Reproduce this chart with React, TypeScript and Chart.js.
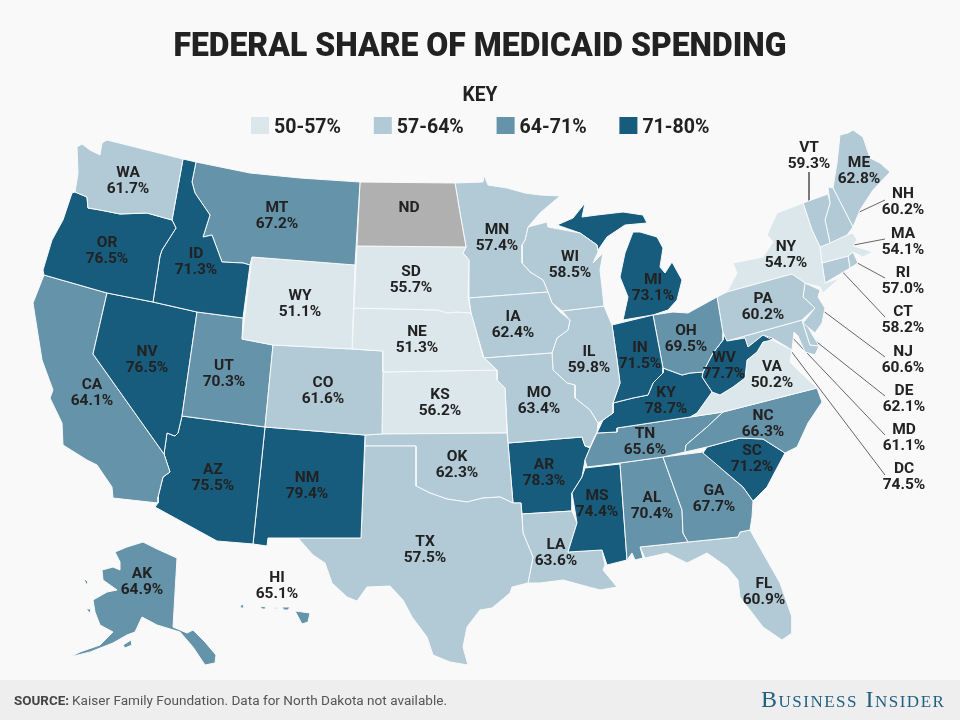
import React, { useEffect, useRef } from "react";
import { Chart, registerables } from "chart.js";

Chart.register(...registerables);

type Pt = [number, number];

const titleText = "FEDERAL SHARE OF MEDICAID SPENDING";
const keyText = "KEY";
const bandLabels = ["50-57%", "57-64%", "64-71%", "71-80%"];
const bandLimits = [57, 64, 71, 80];
const bandColors = ["#dce7ec", "#b2cad6", "#6593a9", "#175c7c"];
const noDataColor = "#b0b0b0";

const stateCodes = ["WA","OR","ID","MT","WY","ND","SD","NE","CO","UT","NV","CA","AZ","NM","TX","OK","KS","MO","IA","MN","WI","IL","IN","MI","OH","KY","WV","VA","NC","TN","SC","GA","AL","MS","LA","AR","FL","PA","NY","VT","NH","ME","MA","CT","RI","NJ","DE","MD","DC","AK","HI"];
const stateValues: (number | null)[] = [61.7,76.5,71.3,67.2,51.1,null,55.7,51.3,61.6,70.3,76.5,64.1,75.5,79.4,57.5,62.3,56.2,63.4,62.4,57.4,58.5,59.8,71.5,73.1,69.5,78.7,77.7,50.2,66.3,65.6,71.2,67.7,70.4,74.4,63.6,78.3,60.9,60.2,54.7,59.3,60.2,62.8,54.1,58.2,57.0,60.6,62.1,61.1,74.5,64.9,65.1];

// Map outlines, in map units (one or more rings per state).
const outlines: Record<string, Pt[][]> = {
  WA: [[[77,147],[82,144],[90,150],[100,155],[102,143],[107,140],[183,159],[172,220],[147,213],[120,214],[100,210],[88,208],[87,197],[75,192],[78,173]]],
  OR: [[[75,192],[87,197],[88,208],[100,210],[120,214],[147,213],[172,220],[176,228],[162,250],[160,256],[153,302],[107,293],[44,275],[43,270],[52,240],[63,220],[72,193]]],
  ID: [[[183,159],[196,162],[192,182],[195,193],[210,215],[203,237],[212,235],[222,262],[243,263],[250,265],[243,318],[197,312],[153,302],[160,256],[162,250],[176,228],[172,220]]],
  MT: [[[196,162],[250,173],[300,178],[360,182],[355,265],[252,257],[250,265],[243,263],[222,262],[212,235],[203,237],[210,215],[195,193],[192,182]]],
  WY: [[[252,257],[355,265],[352,349],[273,345],[242,339]]],
  ND: [[[360,182],[455,183],[460,213],[466,247],[357,246]]],
  SD: [[[357,246],[466,247],[463,253],[469,260],[468,297],[471,313],[457,312],[447,313],[438,310],[354,308]]],
  NE: [[[354,308],[438,310],[447,313],[457,312],[471,313],[475,327],[483,357],[497,370],[383,372],[383,351],[352,349]]],
  CO: [[[273,345],[352,349],[383,351],[383,372],[382,434],[365,435],[265,427]]],
  UT: [[[197,312],[243,318],[242,339],[273,345],[265,427],[182,416]]],
  NV: [[[107,293],[153,302],[197,312],[182,416],[178,433],[175,436],[167,433],[164,454],[93,354]]],
  CA: [[[44,275],[107,293],[93,354],[164,454],[170,472],[163,477],[158,497],[158,503],[113,498],[112,487],[97,465],[87,460],[63,445],[62,423],[50,398],[53,390],[42,360],[33,303]]],
  AZ: [[[182,416],[265,427],[253,544],[217,541],[155,507],[158,503],[158,497],[163,477],[170,472],[164,454],[167,433],[175,436],[178,433]]],
  NM: [[[265,427],[365,435],[361,538],[297,538],[268,538],[267,546],[253,544]]],
  TX: [[[365,446],[416,446],[416,486],[430,493],[447,499],[467,502],[483,498],[500,497],[513,503],[521,503],[523,533],[533,557],[528,583],[512,587],[510,593],[492,608],[480,610],[467,627],[463,647],[468,665],[450,662],[433,655],[427,637],[412,617],[403,600],[390,586],[367,587],[357,601],[347,597],[332,583],[325,563],[313,555],[298,538],[361,538]]],
  OK: [[[365,435],[382,434],[507,433],[508,443],[513,503],[500,497],[483,498],[467,502],[447,499],[430,493],[416,486],[416,446],[365,446]]],
  KS: [[[383,372],[497,370],[497,380],[505,388],[507,433],[382,434]]],
  MO: [[[484,358],[552,353],[553,370],[567,383],[575,385],[575,398],[590,410],[598,423],[597,432],[593,440],[590,447],[585,446],[582,437],[508,443],[505,388],[497,380],[497,370]]],
  IA: [[[469,298],[548,292],[552,303],[560,312],[570,320],[568,330],[557,338],[552,353],[484,358],[475,327],[471,313]]],
  MN: [[[455,183],[483,182],[484,175],[488,185],[507,188],[525,193],[540,195],[560,196],[540,213],[528,227],[525,240],[522,245],[522,263],[530,272],[543,280],[548,292],[469,298],[469,260],[463,253],[466,247],[460,213]]],
  WI: [[[528,227],[547,222],[548,227],[580,233],[597,245],[598,252],[593,263],[603,253],[600,270],[602,287],[604,306],[562,311],[552,303],[548,292],[543,280],[530,272],[522,263],[522,245],[525,240]]],
  IL: [[[562,311],[604,306],[612,325],[617,360],[620,383],[613,403],[613,413],[603,420],[598,423],[590,410],[575,398],[575,385],[567,383],[553,370],[552,353],[557,338],[568,330],[570,320]]],
  IN: [[[612,325],[653,315],[663,368],[663,373],[653,383],[648,395],[633,398],[617,402],[613,403],[620,383],[617,360]]],
  MI: [
    [[557,225],[573,218],[585,203],[582,217],[597,215],[623,212],[643,215],[647,223],[625,225],[607,237],[598,250],[597,245],[580,233]],
    [[633,232],[640,232],[657,237],[663,248],[660,267],[665,273],[672,262],[682,280],[677,300],[668,310],[653,315],[623,320],[628,297],[620,277],[625,253]],
  ],
  OH: [[[653,315],[673,312],[688,313],[717,297],[723,333],[723,340],[713,353],[703,372],[690,373],[682,375],[663,368]]],
  KY: [[[663,373],[663,368],[682,375],[690,373],[703,372],[702,377],[712,392],[697,413],[690,417],[617,428],[617,432],[597,433],[603,420],[613,413],[613,403],[617,402],[633,398],[648,395],[653,383]]],
  WV: [[[723,333],[727,341],[745,338],[748,347],[763,335],[772,340],[763,342],[757,352],[747,360],[745,378],[733,387],[720,395],[712,392],[702,377],[703,372],[713,353],[723,340]]],
  VA: [[[690,417],[697,413],[712,392],[720,395],[733,387],[745,378],[747,360],[757,352],[763,342],[772,340],[792,350],[790,362],[800,372],[817,388],[723,412]]],
  NC: [[[817,388],[822,402],[808,423],[797,447],[785,453],[763,439],[740,438],[707,447],[685,452],[686,445],[707,427],[723,412]]],
  TN: [[[617,428],[690,417],[723,412],[707,427],[686,445],[685,452],[663,457],[620,463],[587,467],[585,460],[590,448],[597,433],[617,432]]],
  SC: [[[703,453],[707,447],[740,438],[763,439],[785,453],[777,468],[767,487],[753,501],[743,487],[723,470]]],
  GA: [[[663,457],[703,452],[723,470],[743,487],[753,501],[752,517],[750,530],[740,532],[738,537],[688,542],[683,533],[682,510]]],
  AL: [[[620,463],[663,457],[682,510],[683,533],[688,542],[640,547],[643,558],[635,560],[632,553],[627,560]]],
  MS: [[[585,468],[620,464],[627,560],[607,565],[602,550],[568,552],[577,523],[572,493],[582,477]]],
  LA: [[[522,514],[572,511],[577,523],[568,552],[602,550],[605,565],[603,570],[617,587],[600,590],[563,580],[540,583],[528,583],[533,557],[523,533]]],
  AR: [[[508,443],[582,437],[585,446],[590,448],[585,460],[582,477],[572,493],[572,511],[522,514],[521,503],[513,503]]],
  FL: [[[640,547],[688,542],[738,537],[740,532],[750,530],[763,553],[780,583],[792,617],[792,633],[782,640],[763,627],[740,597],[738,580],[727,567],[707,553],[687,563],[667,553],[645,558]]],
  PA: [[[717,297],[727,292],[792,274],[805,283],[803,297],[815,308],[802,320],[727,341],[723,333]]],
  NY: [[[727,292],[737,273],[733,263],[763,257],[773,242],[767,235],[777,213],[803,203],[812,230],[820,247],[822,263],[825,283],[840,278],[823,293],[820,287],[805,283],[792,274]]],
  VT: [[[803,203],[828,194],[830,203],[825,220],[830,243],[820,247],[812,230]]],
  NH: [[[828,187],[833,188],[853,227],[847,235],[830,243],[825,220],[830,203]]],
  ME: [[[833,188],[837,163],[840,135],[848,133],[853,130],[863,137],[870,158],[880,163],[890,172],[873,190],[860,210],[853,227]]],
  MA: [[[820,247],[847,235],[853,233],[857,240],[853,246],[867,250],[873,252],[863,257],[853,252],[848,256],[822,263]]],
  CT: [[[822,263],[848,256],[850,268],[825,283]]],
  RI: [[[848,256],[853,252],[858,263],[850,268]]],
  NJ: [[[805,283],[820,290],[818,297],[825,308],[822,323],[815,333],[803,323],[815,308],[803,297]]],
  DE: [[[802,320],[805,322],[819,346],[810,345]]],
  MD: [[[727,341],[802,320],[810,345],[819,346],[815,355],[805,352],[798,336],[794,332],[792,350],[772,338],[763,335],[748,347],[745,338]]],
  DC: [[[763,335],[768,333],[773,338],[770,341]]],
  AK: [
    [[115,552],[127,547],[143,542],[157,549],[177,558],[173,627],[187,633],[193,630],[205,642],[216,655],[215,663],[205,665],[193,647],[180,632],[157,625],[142,617],[135,632],[127,635],[113,643],[90,652],[70,657],[80,652],[100,645],[113,632],[100,625],[95,612],[93,600],[107,592],[117,590],[103,580],[102,570],[113,567],[120,570],[120,562]],
    [[123,645],[131,640],[132,645],[125,648]],
    [[84,578],[88,582],[86,585]],
    [[86,609],[91,609],[90,613]],
  ],
  HI: [
    [[295,611],[310,613],[308,622],[302,624]],
    [[282,607],[290,607],[288,610],[284,610]],
    [[273,608],[278,607],[277,609]],
    [[260,606],[266,607],[266,609],[262,609]],
    [[240,606],[243,604],[244,608],[241,608]],
  ],
};

// Where each state's two-line label sits (first line), in map units.
const labelPlaces: Record<string, Pt> = {
  WA:[128,173],OR:[107,243],ID:[196,254],MT:[277,208],WY:[300,296],ND:[409,208],SD:[411,272],NE:[417,332],CO:[323,383],UT:[224,366],NV:[147,352],CA:[92,385],AZ:[213,470],NM:[307,478],TX:[425,542],OK:[457,457],KS:[440,395],MO:[539,393],IA:[513,317],MN:[497,230],WI:[570,257],IL:[589,352],IN:[640,348],MI:[653,280],OH:[686,331],KY:[666,393],WV:[724,358],VA:[772,367],NC:[763,416],TN:[645,434],SC:[752,451],GA:[714,491],AL:[652,498],MS:[597,496],LA:[556,545],AR:[544,465],FL:[764,584],PA:[763,299],NY:[786,247],VT:[809,148],NH:[903,194],ME:[859,163],MA:[903,234],CT:[903,312],RI:[903,273],NJ:[903,352],DE:[904,391],MD:[904,430],DC:[904,469],AK:[142,574],HI:[277,578],
};

// Leader lines from outside labels to small states.
const leaders: Record<string, [Pt, Pt]> = {
  VT:[[809,172],[809,203]],NH:[[885,200],[838,222]],MA:[[885,239],[838,248]],RI:[[885,278],[850,259]],CT:[[885,317],[837,266]],NJ:[[885,357],[818,307]],DE:[[885,396],[808,335]],MD:[[885,435],[788,333]],DC:[[885,475],[785,343]],
};

const colorFor = (v: number | null) => {
  if (v === null) return noDataColor;
  const i = bandLimits.findIndex((limit) => v < limit);
  return bandColors[i < 0 ? bandColors.length - 1 : i];
};

const FONT = '"Roboto", sans-serif';

const textPlugin = {
  id: "mapText",
  afterDraw(chart: any) {
    const { ctx, scales } = chart;
    const X = (v: number) => scales.x.getPixelForValue(v);
    const Y = (v: number) => scales.y.getPixelForValue(v);
    ctx.save();
    ctx.textBaseline = "middle";
    ctx.textAlign = "center";
    ctx.fillStyle = "#222222";
    stateCodes.forEach((code, i) => {
      const [x, y] = labelPlaces[code];
      const v = stateValues[i];
      ctx.font = `bold 15.5px ${FONT}`;
      ctx.fillText(code, X(x), Y(y));
      if (v !== null) ctx.fillText(`${v.toFixed(1)}%`, X(x), Y(y + 16));
    });
    ctx.font = `900 33px ${FONT}`;
    ctx.fillText(titleText, 480, 48, 613);
    ctx.font = `bold 21px ${FONT}`;
    ctx.fillText(keyText, 480, 96, 35);
    bandLabels.forEach((label, i) => {
      const left = 251 + i * 122.8;
      ctx.fillStyle = bandColors[i];
      ctx.fillRect(left, 117, 18, 17);
      ctx.fillStyle = "#222222";
      ctx.textAlign = "left";
      ctx.font = `bold 21px ${FONT}`;
      ctx.fillText(label, left + 23, 128, 67);
    });
    ctx.fillStyle = "#eeeeee";
    ctx.fillRect(0, 680, 960, 40);
    ctx.textAlign = "left";
    ctx.fillStyle = "#444444";
    ctx.font = `bold 13.6px ${FONT}`;
    ctx.fillText("SOURCE:", 14, 702, 55);
    ctx.fillStyle = "#555555";
    ctx.font = `13.6px ${FONT}`;
    ctx.fillText("Kaiser Family Foundation. Data for North Dakota not available.", 72, 702, 375);
    ctx.fillStyle = "#1f5f80";
    ctx.font = 'small-caps 24px "Liberation Serif", serif';
    ctx.letterSpacing = "1.5px";
    ctx.fillText("Business Insider", 761, 701, 185);
    ctx.restore();
  },
};

export default function App() {
  const ref = useRef<HTMLCanvasElement>(null);
  useEffect(() => {
    document.body.style.margin = "0";
    const stateSets = stateCodes.flatMap((code, i) =>
      outlines[code].map((ring) => ({
        label: code,
        data: [...ring, ring[0]].map(([x, y]) => ({ x, y })),
        showLine: true,
        fill: "shape",
        tension: 0,
        backgroundColor: colorFor(stateValues[i]),
        borderColor: "#f7f9fa",
        borderWidth: 1,
        pointRadius: 0,
      }))
    );
    const leaderSets = Object.entries(leaders).map(([code, ends]) => ({
      label: `${code} leader`,
      data: ends.map(([x, y]) => ({ x, y })),
      showLine: true,
      fill: false,
      borderColor: "#666666",
      borderWidth: 1,
      pointRadius: 0,
    }));
    const chart = new Chart(ref.current!, {
      type: "scatter",
      data: { datasets: [...stateSets, ...leaderSets] as any },
      options: {
        animation: false,
        responsive: false,
        events: [],
        layout: { padding: 0 },
        plugins: { legend: { display: false }, tooltip: { enabled: false }, title: { display: false } },
        scales: {
          x: { type: "linear", min: 0, max: 960, display: false },
          y: { type: "linear", min: 0, max: 720, reverse: true, display: false },
        },
      },
      plugins: [textPlugin],
    });
    return () => chart.destroy();
  }, []);
  return <canvas ref={ref} width={960} height={720} style={{ display: "block", background: "#f9f9f9" }} />;
}
